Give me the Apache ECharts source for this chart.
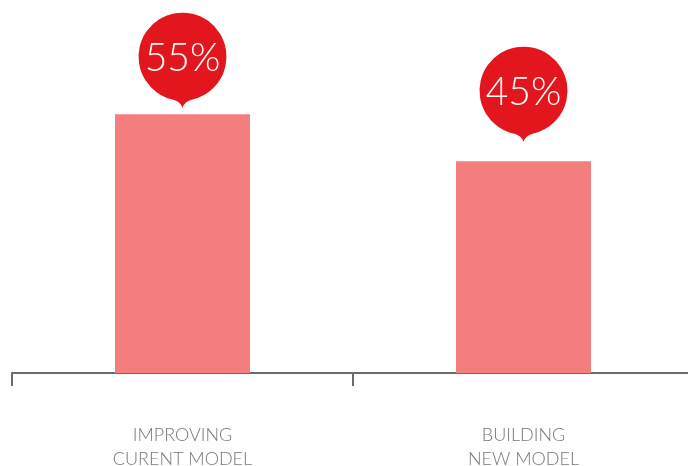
<!DOCTYPE html>
<html>
<head>
<meta charset="utf-8">
<script src="https://cdn.jsdelivr.net/npm/echarts@6/dist/echarts.min.js"></script>
<style>html,body{margin:0;padding:0;background:#fff;}#c{width:688px;height:466px;}</style>
</head>
<body>
<div id="c"></div>
<script>
const categories = ['IMPROVING\nCURENT MODEL', 'BUILDING\nNEW MODEL'];
const values = [55, 45];
const valueLabels = ['55%', '45%'];

const bubblePath = 'path://M44,95 Q42,89 34,86.85 A44,44 0 1,1 54,86.85 Q46,89 44,95 Z';
const bubbleOffsets = [[0, -54], [0, -67]];

const chart = echarts.init(document.getElementById('c'));
chart.setOption({
  animation: false,
  grid: { left: 12, top: 20, bottom: 93, width: 682, outerBoundsMode: 'none', containLabel: false },
  xAxis: {
    type: 'category',
    data: categories,
    boundaryGap: true,
    axisLine: { lineStyle: { color: '#6b6b6b', width: 2 } },
    axisTick: { show: true, length: 13, lineStyle: { color: '#6b6b6b', width: 2 } },
    axisLabel: {
      color: '#777777',
      fontFamily: 'Lato',
      fontWeight: 300,
      fontSize: 18,
      lineHeight: 24,
      margin: 50
    }
  },
  yAxis: { type: 'value', min: 0, max: 75, show: false, splitLine: { show: false } },
  series: [{
    type: 'bar',
    data: values,
    barWidth: 135,
    itemStyle: { color: '#f47e7e' },
    markPoint: {
      symbol: bubblePath,
      symbolSize: [88, 95],
      itemStyle: { color: '#e3161e' },
      label: {
        show: true,
        position: 'inside',
        offset: [0, -2],
        color: '#ffffff',
        fontFamily: 'Lato',
        fontWeight: 300,
        fontSize: 39
      },
      data: values.map((v, i) => ({
        coord: [i, v],
        value: valueLabels[i],
        symbolOffset: bubbleOffsets[i]
      }))
    }
  }]
});
</script>
</body>
</html>
